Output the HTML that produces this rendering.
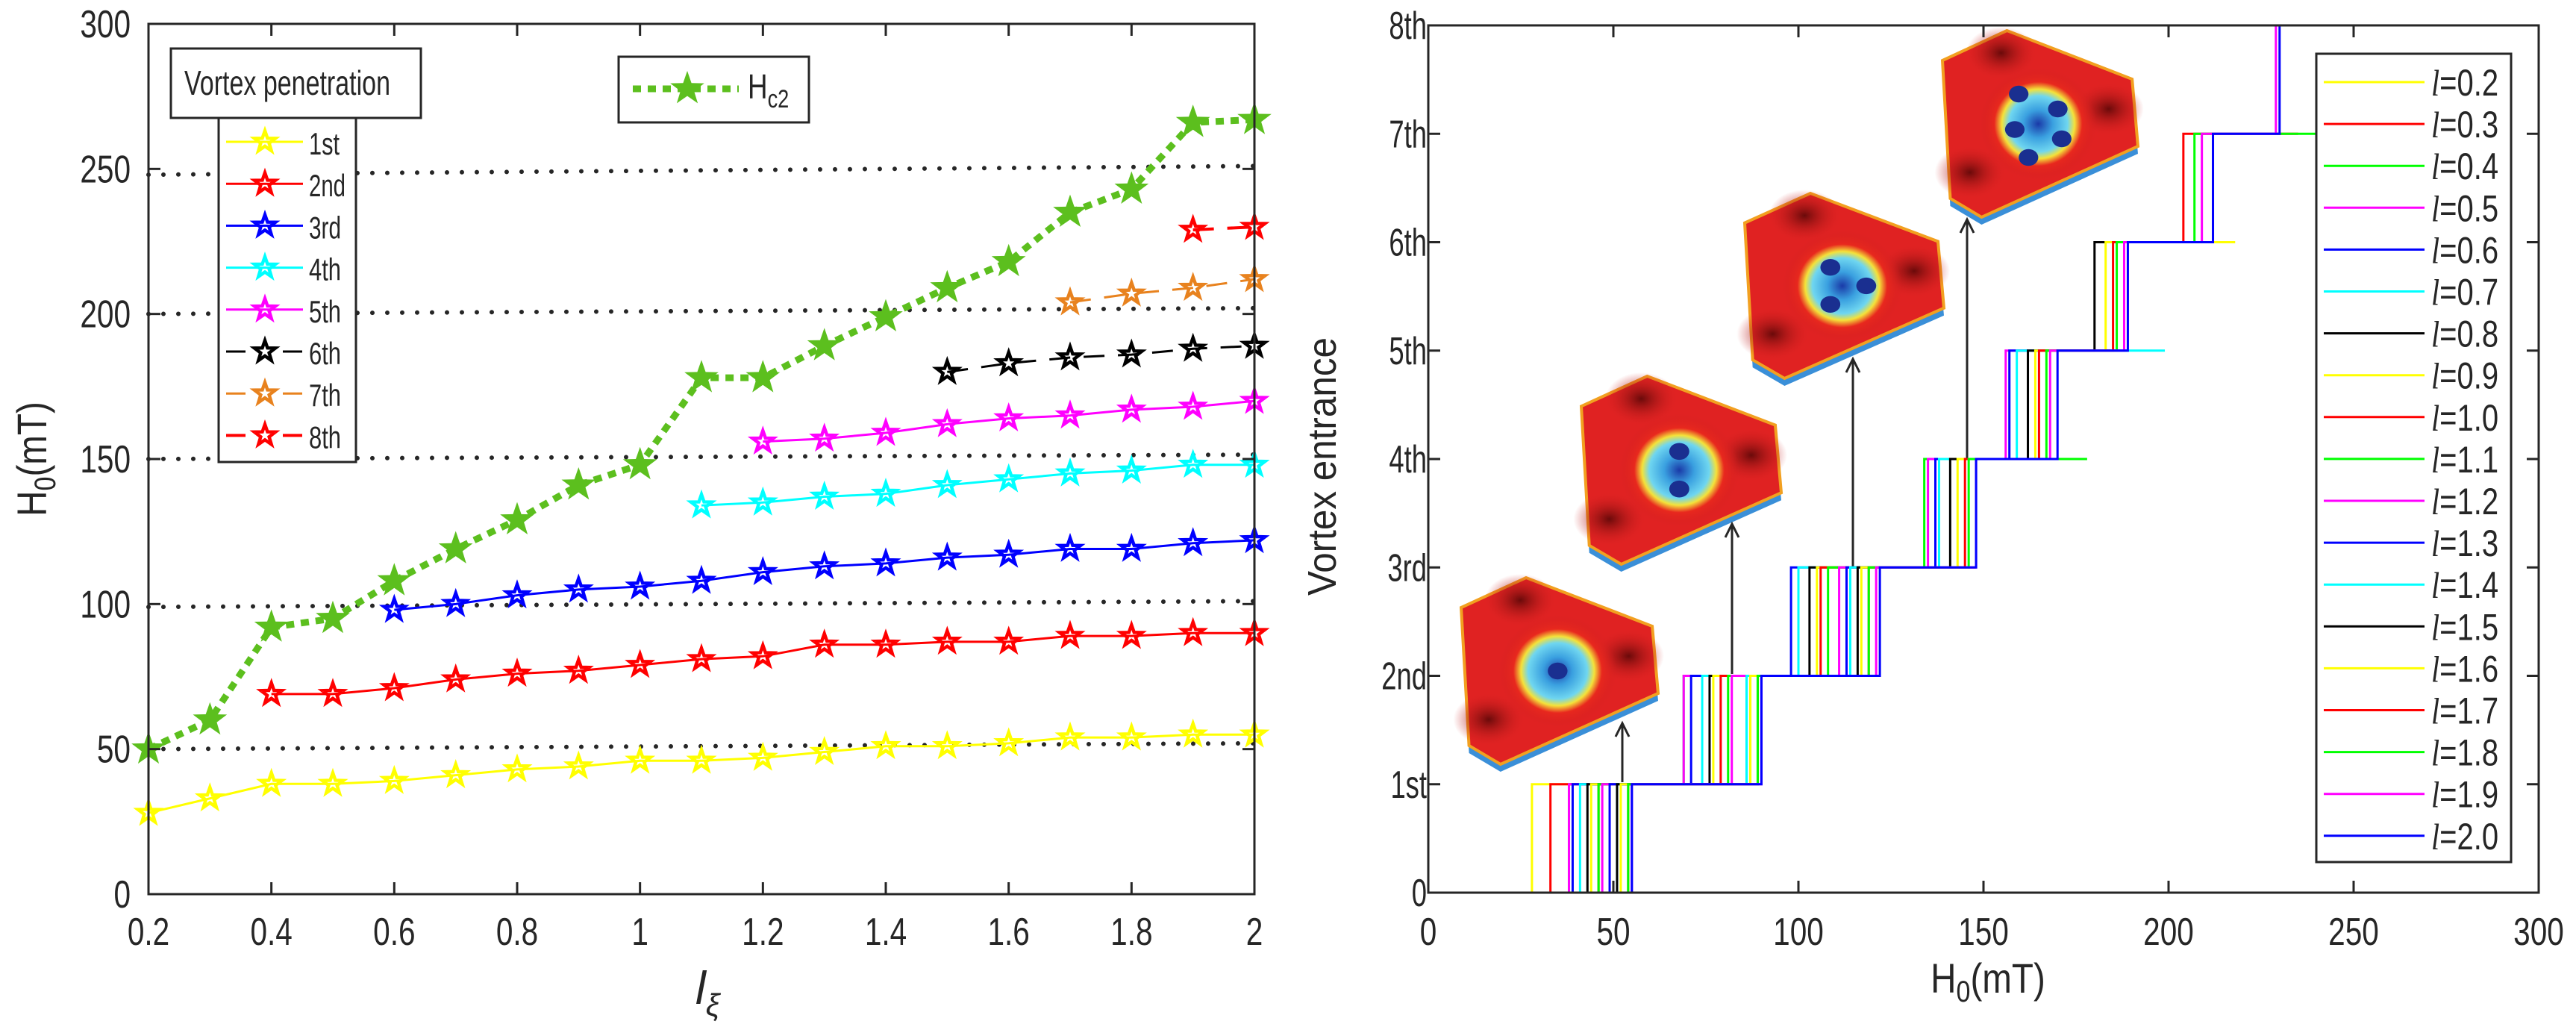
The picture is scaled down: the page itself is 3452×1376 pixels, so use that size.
<!DOCTYPE html>
<html><head><meta charset="utf-8"><style>
html,body{margin:0;padding:0;background:#fff;}
svg{display:block;}
text{font-family:"Liberation Sans",Arial,sans-serif;fill:#262626;}
</style></head><body>
<svg id="fig" width="3452" height="1376" viewBox="0 0 3452 1376" xmlns="http://www.w3.org/2000/svg">
<defs>
<radialGradient id="hm1" cx="0.5" cy="0.5" r="0.5">
<stop offset="0" stop-color="#1a3aa8"/><stop offset="0.25" stop-color="#3aa0e0"/><stop offset="0.5" stop-color="#6fd6f0"/><stop offset="0.62" stop-color="#f4e23a"/><stop offset="0.75" stop-color="#e8281e"/><stop offset="1" stop-color="#d42020" stop-opacity="0"/>
</radialGradient>
<radialGradient id="corner" cx="0.5" cy="0.5" r="0.5">
<stop offset="0" stop-color="#6a0a0a"/><stop offset="1" stop-color="#d42020" stop-opacity="0"/>
</radialGradient>
</defs>
<g id="left"></g>
<g id="right"></g>
</svg>
<script>
// ---------- LEFT CHART DATA ----------
const lVals = [0.2,0.3,0.4,0.5,0.6,0.7,0.8,0.9,1.0,1.1,1.2,1.3,1.4,1.5,1.6,1.7,1.8,1.9,2.0];
const hc2 = [50,60,92,95,108,119,129,141,148,178,178,189,199,209,218,235,243,266,267];
const pen1 = [28,33,38,38,39,41,43,44,46,46,47,49,51,51,52,54,54,55,55];
const pen2 = [null,null,69,69,71,74,76,77,79,81,82,86,86,87,87,89,89,90,90];
const pen3 = [null,null,null,null,98,100,103,105,106,108,111,113,114,116,117,119,119,121,122];
const pen4 = [null,null,null,null,null,null,null,null,null,134,135,137,138,141,143,145,146,148,148];
const pen5 = [null,null,null,null,null,null,null,null,null,null,156,157,159,162,164,165,167,168,170];
const pen6 = [null,null,null,null,null,null,null,null,null,null,null,null,null,180,183,185,186,188,189];
const pen7 = [null,null,null,null,null,null,null,null,null,null,null,null,null,null,null,204,207,209,212];
const pen8 = [null,null,null,null,null,null,null,null,null,null,null,null,null,null,null,null,null,229,230];
const penNames = ["1st","2nd","3rd","4th","5th","6th","7th","8th"];
const refLinesStart = [50,99,150,200,248];
const refLinesEnd = [52,101,151.5,202,251];
const leftXTicks = [0.2,0.4,0.6,0.8,1,1.2,1.4,1.6,1.8,2];
const leftYTicks = [0,50,100,150,200,250,300];
// ---------- RIGHT CHART DATA ----------
const rightXTicks = [0,50,100,150,200,250,300];
const rightYTicks = ["0","1st","2nd","3rd","4th","5th","6th","7th","8th"];
const rLegend = ["0.2","0.3","0.4","0.5","0.6","0.7","0.8","0.9","1.0","1.1","1.2","1.3","1.4","1.5","1.6","1.7","1.8","1.9","2.0"];

const NS="http://www.w3.org/2000/svg";
function mk(tag,parent,attrs){const e=document.createElementNS(NS,tag);for(const k in attrs)e.setAttribute(k,attrs[k]);parent.appendChild(e);return e;}
function txt(parent,x,y,s,size,anchor,sx){const t=mk('text',parent,{x:0,y:0,'font-size':size,'text-anchor':anchor||'start',transform:`translate(${x},${y}) scale(${sx||0.78},1)`});t.textContent=s;return t;}
function txtL(parent,x,y,s,size,len){const t=mk('text',parent,{x:x,y:y,'font-size':size,textLength:len,lengthAdjust:'spacingAndGlyphs'});t.textContent=s;return t;}
function starPath(cx,cy,r){let d='';for(let i=0;i<10;i++){const rr=i%2?r*0.4:r;const a=-Math.PI/2+i*Math.PI/5;d+=(i?'L':'M')+(cx+rr*Math.cos(a)).toFixed(1)+','+(cy+rr*Math.sin(a)).toFixed(1);}return d+'Z';}

// ---------- LEFT ----------
const L=document.getElementById('left');
const lx0=199,lx1=1681,ly0=1198,ly1=32;
const lxs=v=>lx0+(v-0.2)/1.8*(lx1-lx0);
const lys=v=>ly0-v/300*(ly0-ly1);
refLinesStart.forEach((v,i)=>{
 const ln=mk('line',L,{x1:lx0,y1:lys(v),x2:lx1,y2:lys(refLinesEnd[i]),stroke:'#262626','stroke-width':6,'stroke-dasharray':'0 20','stroke-linecap':'round'});
 
 
});
const serColors=['#ffff00','#ff0000','#0000ff','#00ffff','#ff00ff','#000000','#e8821e','#ff0000'];
const serDash=['','','','','','28 18','28 18','28 18'];
const serData=[pen1,pen2,pen3,pen4,pen5,pen6,pen7,pen8];
serData.forEach((arr,si)=>{
 const g=mk('g',L,{});
 
 
 let d='';
 arr.forEach((v,i)=>{if(v==null)return;d+=(d?'L':'M')+lxs(lVals[i])+','+lys(v);});
 mk('path',g,{d:d,fill:'none',stroke:serColors[si],'stroke-width':si==7?4:3,'stroke-dasharray':serDash[si]});
 arr.forEach((v,i)=>{if(v==null)return;
  const p=mk('path',g,{d:starPath(lxs(lVals[i]),lys(v),17),fill:'none',stroke:serColors[si],'stroke-width':3});
  
  
  mk('path',g,{d:starPath(lxs(lVals[i]),lys(v),11),fill:'none',stroke:serColors[si],'stroke-width':2});
 });
});
const gh=mk('g',L,{});


let dh='';hc2.forEach((v,i)=>{dh+=(i?'L':'M')+lxs(lVals[i])+','+lys(v);});
mk('path',gh,{d:dh,fill:'none',stroke:'#5cbf1e','stroke-width':9,'stroke-dasharray':'11 9'});
hc2.forEach((v,i)=>{const p=mk('path',gh,{d:starPath(lxs(lVals[i]),lys(v),24),fill:'#5cbf1e'});
 
 });
const lax=mk('rect',L,{x:lx0,y:ly1,width:lx1-lx0,height:ly0-ly1,fill:'none',stroke:'#262626','stroke-width':3});


leftXTicks.forEach(v=>{const x=lxs(v);
 mk('line',L,{x1:x,y1:ly0,x2:x,y2:ly0-16,stroke:'#262626','stroke-width':3});
 mk('line',L,{x1:x,y1:ly1,x2:x,y2:ly1+16,stroke:'#262626','stroke-width':3});
 const t=txt(L,x,1266,String(v),52,'middle');
 
 });
leftYTicks.forEach(v=>{const y=lys(v);
 mk('line',L,{x1:lx0,y1:y,x2:lx0+16,y2:y,stroke:'#262626','stroke-width':3});
 mk('line',L,{x1:lx1,y1:y,x2:lx1-16,y2:y,stroke:'#262626','stroke-width':3});
 const t=txt(L,175,y+18,String(v),52,'end');
 
 });
const lxl=mk('text',L,{x:932,y:1345,'font-size':62,'text-anchor':'start','font-family':'Liberation Serif,serif','font-style':'italic'});
lxl.innerHTML='l<tspan font-size="42" dy="16">ξ</tspan>';


const lyl=mk('text',L,{x:0,y:0,'font-size':56,'text-anchor':'middle',transform:'translate(62,615) rotate(-90) scale(0.85,1)'});
lyl.innerHTML='H<tspan font-size="40" dy="12">0</tspan><tspan dy="-12">(mT)</tspan>';


// legend 1
const lg=mk('g',L,{});


mk('rect',lg,{x:293,y:158,width:184,height:461,fill:'#fff',stroke:'#262626','stroke-width':3});
mk('rect',lg,{x:229,y:65,width:335,height:93,fill:'#fff',stroke:'#262626','stroke-width':3});
txtL(lg,247,127,'Vortex penetration',46,276);
const lgW=[41,49,43,43,43,43,43,43];
penNames.forEach((n,i)=>{const y=190+i*56.2;
 const e=mk('g',lg,{});
 
 
 mk('line',e,{x1:303,y1:y,x2:406,y2:y,stroke:serColors[i],'stroke-width':i==7?4:3,'stroke-dasharray':i>=5?'26 50':''});
 mk('path',e,{d:starPath(355,y,17),fill:i>=5?'#fff':'none',stroke:serColors[i],'stroke-width':3});
 mk('path',e,{d:starPath(355,y,11),fill:'none',stroke:serColors[i],'stroke-width':2});
 txtL(e,414,y+17,n,42,lgW[i]);
});
const lg2=mk('g',L,{});


mk('rect',lg2,{x:829,y:76,width:255,height:88,fill:'#fff',stroke:'#262626','stroke-width':3});
mk('line',lg2,{x1:848,y1:119,x2:990,y2:119,stroke:'#5cbf1e','stroke-width':9,'stroke-dasharray':'11 9'});
mk('path',lg2,{d:starPath(921,119,24),fill:'#5cbf1e'});
const ht=mk('text',lg2,{x:0,y:0,'font-size':46,transform:'translate(1002,132) scale(0.8,1)'});
ht.innerHTML='H<tspan font-size="34" dy="12">c2</tspan>';

// ---------- RIGHT ----------
const R=document.getElementById('right');
const rx0=1914,rx1=3402,ry0=1196,ry1=34;
const rxs=v=>rx0+v/300*(rx1-rx0);
const rys=k=>ry0-k/8*(ry0-ry1);
const rColors=['#ffff00','#ff0000','#00ff00','#ff00ff','#0000ff','#00ffff','#000000'];
const insets=[[1958,774,264,250,1],[2119,504,268,252,2],[2338,259,267,248,3],[2603,41,262,250,5]];
const shape=[[0.33,0],[0,0.16],[0.04,0.9],[0.2,1],[1,0.62],[0.97,0.26]];
insets.forEach(([x,y,w,h,n],k)=>{
 const g=mk('g',R,{});
 
 
 const pts=shape.map(p=>(x+p[0]*w)+','+(y+p[1]*h)).join(' ');
 const pts2=shape.map(p=>(x+p[0]*w)+','+(y+p[1]*h+10)).join(' ');
 mk('polygon',g,{points:pts2,fill:'#3a8fd8'});
 mk('polygon',g,{points:pts,fill:'#e02222',stroke:'#f2a020','stroke-width':4});
 [[0.3,0.12],[0.14,0.76],[0.85,0.42]].forEach(c=>mk('ellipse',g,{cx:x+c[0]*w,cy:y+c[1]*h,rx:w*0.18,ry:h*0.14,fill:'url(#corner)'}));
 mk('ellipse',g,{cx:x+0.49*w,cy:y+0.5*h,rx:w*0.3,ry:h*0.3,fill:'url(#hm1)'});
 const cx=x+0.49*w,cy=y+0.5*h;
 const pos={1:[[0,0]],2:[[0,-0.1],[0,0.1]],3:[[-0.06,-0.1],[0.12,0],[-0.06,0.1]],5:[[-0.1,-0.16],[0.1,-0.08],[-0.12,0.03],[0.12,0.08],[-0.05,0.18]]}[n];
 pos.forEach(p=>mk('ellipse',g,{cx:cx+p[0]*w,cy:cy+p[1]*h,rx:w*0.05,ry:h*0.045,fill:'#1a2f90'}));
});
[[2174,1048,969],[2321,903,702],[2483,759,481],[2636,614,294]].forEach(([x,y1,y2],k)=>{
 const a=mk('g',R,{});
 
 
 mk('line',a,{x1:x,y1:y1,x2:x,y2:y2,stroke:'#262626','stroke-width':3});
 mk('path',a,{d:`M${x-9},${y2+18}L${x},${y2}L${x+9},${y2+18}`,fill:'none',stroke:'#262626','stroke-width':3});
});
lVals.forEach((l,i)=>{
 const th=serData.map(a=>a[i]).filter(v=>v!=null);
 let d='M'+rxs(0)+','+rys(0);
 th.forEach((v,k)=>{d+='L'+rxs(v)+','+rys(k)+'L'+rxs(v)+','+rys(k+1);});
 d+='L'+rxs(hc2[i])+','+rys(th.length);
 const p=mk('path',R,{d:d,fill:'none',stroke:rColors[i%7],'stroke-width':3});
 
 
});
const rax=mk('rect',R,{x:rx0,y:ry1,width:rx1-rx0,height:ry0-ry1,fill:'none',stroke:'#262626','stroke-width':3});


rightXTicks.forEach(v=>{const x=rxs(v);
 mk('line',R,{x1:x,y1:ry0,x2:x,y2:ry0-16,stroke:'#262626','stroke-width':3});
 mk('line',R,{x1:x,y1:ry1,x2:x,y2:ry1+16,stroke:'#262626','stroke-width':3});
 const t=txt(R,x,1266,String(v),52,'middle');
 
 });
rightYTicks.forEach((s,k)=>{const y=rys(k);
 mk('line',R,{x1:rx0,y1:y,x2:rx0+16,y2:y,stroke:'#262626','stroke-width':3});
 mk('line',R,{x1:rx1,y1:y,x2:rx1-16,y2:y,stroke:'#262626','stroke-width':3});
 const t=txt(R,1912,y+18,s,52,'end',0.7);
 
 });
const rxl=mk('text',R,{x:0,y:0,'font-size':56,'text-anchor':'middle',transform:'translate(2664,1330) scale(0.85,1)'});
rxl.innerHTML='H<tspan font-size="40" dy="12">0</tspan><tspan dy="-12">(mT)</tspan>';


const ryl=mk('text',R,{x:0,y:0,'font-size':54,'text-anchor':'middle',textLength:346,lengthAdjust:'spacingAndGlyphs',transform:'translate(1790,625) rotate(-90)'});
ryl.textContent='Vortex entrance';


const rg=mk('g',R,{});


mk('rect',rg,{x:3104,y:72,width:261,height:1083,fill:'#fff',stroke:'#262626','stroke-width':3});
rLegend.forEach((s,i)=>{const y=110+i*56.1;
 const e=mk('g',rg,{});
 
 
 mk('line',e,{x1:3114,y1:y,x2:3249,y2:y,stroke:rColors[i%7],'stroke-width':3});
 const t=mk('text',e,{x:0,y:0,'font-size':50,transform:`translate(3258,${y+18}) scale(0.8,1)`});
 t.innerHTML='<tspan font-family="Liberation Serif,serif" font-style="italic">l</tspan>=' + s;
});
</script>
</body></html>
